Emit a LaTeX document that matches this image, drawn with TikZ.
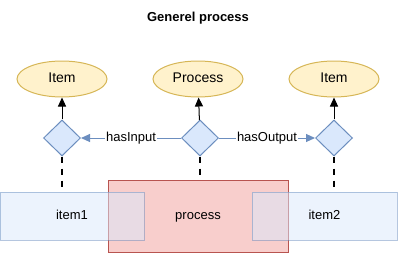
\documentclass[tikz,border=0pt]{standalone}
\usepackage{fontspec}
\setmainfont{Liberation Sans}
\usetikzlibrary{shapes.geometric,arrows.meta}
\definecolor{bluefill}{HTML}{DAE8FC}
\definecolor{bluedraw}{HTML}{6C8EBF}
\definecolor{yellowfill}{HTML}{FFF2CC}
\definecolor{yellowdraw}{HTML}{D6B656}
\definecolor{redfill}{HTML}{F8CECC}
\definecolor{reddraw}{HTML}{B85450}
\begin{document}
\begin{tikzpicture}[x=1pt,y=-1pt,
  fixedtext/.style={text height=9.5pt,text depth=2.8pt},
  concept/.style={ellipse,draw=yellowdraw,fill=yellowfill,line width=1pt,
    minimum width=90pt,minimum height=36pt,inner sep=0pt,fixedtext,
    font=\fontsize{14}{16}\selectfont},
  link/.style={diamond,draw=bluedraw,fill=bluefill,line width=1pt,
    minimum width=37pt,minimum height=36pt,inner sep=0pt},
  itembox/.style={rectangle,draw=bluedraw,fill=bluefill,line width=1pt,
    fill opacity=0.5,draw opacity=0.5,text opacity=1,fixedtext,
    minimum height=48pt,inner sep=0pt,font=\fontsize{13}{15}\selectfont},
  procbox/.style={rectangle,draw=reddraw,fill=redfill,line width=1pt,
    minimum width=180pt,minimum height=72pt,inner sep=0pt,fixedtext,
    font=\fontsize{13}{15}\selectfont},
  typeof/.style={line width=1pt,-{Triangle[length=9pt,width=8pt]}},
  relation/.style={line width=1pt,draw=bluedraw,
    -{Triangle[length=9pt,width=8pt]}},
  rellabel/.style={fill=white,inner sep=1pt,fixedtext,font=\fontsize{13}{15}\selectfont},
  instance/.style={line width=2pt,dash pattern=on 6pt off 6pt}]
\useasboundingbox (0,0) rectangle (398,254);

\node[font=\bfseries\fontsize{13}{15}\selectfont] (title) at (198,18) {Generel process};

% classes
\node[concept] (cin)  at (62,79)  {Item};
\node[concept] (cpr)  at (198,79) {Process};
\node[concept] (cout) at (334,79) {Item};

% relation diamonds
\node[link] (din)  at (62,138)  {};
\node[link] (dpr)  at (200,138) {};
\node[link] (dout) at (334,138) {};

\draw[typeof] (din)  -- (cin);
\draw[typeof] (dpr)  -- (cpr);
\draw[typeof] (dout) -- (cout);

\draw[relation] (dpr) -- node[rellabel] {hasInput} (din);
\draw[relation] (dpr) -- node[rellabel] {hasOutput} (dout);

% instances
\node[procbox] (proc) at (198,216) {process};
\node[itembox,minimum width=144pt] (item1) at (72,216) {item1};
\node[itembox,minimum width=145pt] (item2) at (324.5,216) {item2};

\draw[instance] (din.south)  -- (din.south |- item1.north);
\draw[instance] (dpr.south)  -- (dpr.south |- proc.north);
\draw[instance] (dout.south) -- (dout.south |- item2.north);
\end{tikzpicture}
\end{document}
